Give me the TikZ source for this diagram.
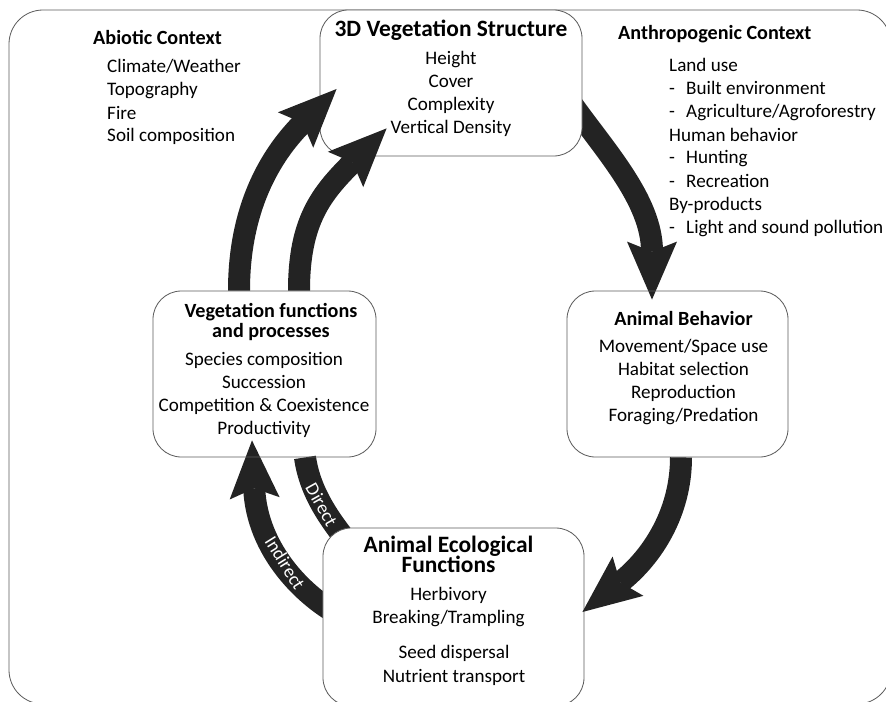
\documentclass[tikz,border=0pt]{standalone}
\usepackage{fontspec}
\setmainfont{Carlito}
\usetikzlibrary{arrows.meta,calc}
\definecolor{flowgray}{HTML}{232323}
\definecolor{linegray}{HTML}{5C5C5C}
\pgfdeclarelayer{back}
\pgfsetlayers{back,main}
\tikzset{
  outerframe/.style={draw=linegray, line width=0.7pt, rounded corners=1.02cm},
  box/.style={draw=linegray, line width=0.7pt, rounded corners=0.85cm, inner sep=0pt},
  flowarrow/.style={draw=flowgray, line width=0.66cm,
    -{Stealth[length=1.74cm, width=1.5cm, inset=0.3cm, line width=0pt]}},
  flowband/.style={draw=flowgray, line width=0.66cm},
  flowlabel/.style={text=white, sloped, inner sep=0pt, font=\fontsize{16}{16}\selectfont},
  titletext/.style={inner sep=0pt, font=\bfseries\fontsize{17.2}{20}\selectfont},
  bigtitle/.style={inner sep=0pt, font=\bfseries\fontsize{20}{20}\selectfont},
  itemtext/.style={inner sep=0pt, font=\fontsize{16.3}{19.6}\selectfont}
}
\begin{document}
\begin{tikzpicture}[x=0.03cm, y=-0.03cm]
\useasboundingbox (0,0) rectangle (886,702);

% the four boxes
\node[box, fill=white, minimum width=7.86cm, minimum height=4.38cm] (vstruct) at (451,83) {};
\node[box, minimum width=6.69cm, minimum height=4.98cm] (vfunc) at (264.5,374) {};
\node[box, minimum width=6.63cm, minimum height=4.98cm] (abehav) at (677.5,374) {};
\node[box, fill=white, minimum width=7.83cm, minimum height=5.34cm] (aeco) at (453.5,617) {};

% abiotic context
\node[titletext, anchor=base west] (abio) at (93,45) {Abiotic Context};
\foreach \txt [count=\i] in {Climate/Weather, Topography, Fire, Soil composition}
  \node[itemtext, anchor=base west] (abio\i) at (107,50+23*\i) {\txt};

% 3D vegetation structure
\node[bigtitle, anchor=base] (vstructt) at (451,37) {3D Vegetation Structure};
\foreach \txt [count=\i] in {Height, Cover, Complexity, Vertical Density}
  \node[itemtext, anchor=base] (vstruct\i) at (451,42+23*\i) {\txt};

% anthropogenic context
\node[titletext, anchor=base west] (anth) at (618,40) {Anthropogenic Context};
\foreach \txt/\dsh [count=\i] in {Land use/0, Built environment/1, {Agriculture/Agroforestry}/1,
    Human behavior/0, Hunting/1, Recreation/1, By-products/0, Light and sound pollution/1}{
  \ifnum\dsh=1 \node[itemtext, anchor=base west] (anthdash\i) at (669,49+23*\i) {-}; \fi
  \node[itemtext, anchor=base west] (anth\i) at (669+17*\dsh,49+23*\i) {\txt};
}

% vegetation functions
\node[titletext, anchor=base] (vfunct1) at (271,317) {Vegetation functions};
\node[titletext, anchor=base] (vfunct2) at (271,337) {and processes};
\foreach \txt [count=\i] in {Species composition, Succession, Competition \& Coexistence, Productivity}
  \node[itemtext, anchor=base] (vfunc\i) at (264,342+23*\i) {\txt};

% animal behavior
\node[titletext, anchor=base] (abehavt) at (683.5,325) {Animal Behavior};
\foreach \txt [count=\i] in {Movement/Space use, Habitat selection, Reproduction, Foraging/Predation}
  \node[itemtext, anchor=base] (abehav\i) at (683.5,329+23*\i) {\txt};

% animal ecological functions
\node[bigtitle, anchor=base] (aecot1) at (448.5,552) {Animal Ecological};
\node[bigtitle, anchor=base] (aecot2) at (448.5,572) {Functions};
\foreach \txt/\xx/\yy [count=\i] in {Herbivory/448.5/600, {Breaking/Trampling}/448.5/623,
    Seed dispersal/454/658, Nutrient transport/454/682}
  \node[itemtext, anchor=base] (aeco\i) at (\xx,\yy) {\txt};

\begin{pgfonlayer}{back}
\draw[outerframe] (9,10) rectangle (891,704);
\draw[flowarrow] ($(vstruct.east)+(-14,16)$) .. controls +(35,50) and +(0,-100) .. ($(abehav.north)+(-25.5,9)$);
\draw[flowband] ($(vfunc.south)+(40.5,0)$) .. controls +(5,35) and +(-20,-25) .. ($(aeco.north west)+(27,17)$)
  node[flowlabel, pos=0.5] (direct) {Direct};
\draw[flowarrow] ($(aeco.west)+(22,1)$) .. controls +(-40,-20) and +(5,110) .. ($(vfunc.south)+(-12.5,-17)$)
  node[flowlabel, pos=0.5] (indirect) {Indirect};
\end{pgfonlayer}

\draw[flowarrow] ($(vfunc.north)+(-25.5,0)$) .. controls +(0,-90) and +(-60,60) .. ($(vstruct.west)+(17,6)$);
\draw[flowarrow] ($(vfunc.north)+(34.5,0)$) .. controls +(0,-70) and +(-65,65) .. ($(vstruct.south west)+(67,-28)$);
\draw[flowarrow] ($(abehav.south)+(3.5,0)$) .. controls +(0,55) and +(70,-55) .. ($(aeco.east)+(-2,-5)$);
\end{tikzpicture}
\end{document}
